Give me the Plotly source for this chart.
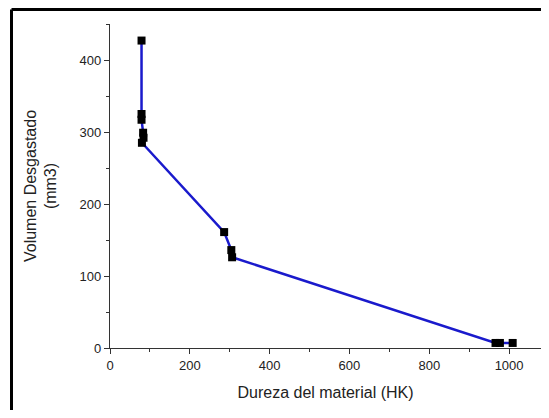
import plotly.graph_objects as go

dureza = [79, 79, 79, 83, 84, 80, 286, 304, 306, 966, 977, 1009]
volumen = [427, 325, 317, 299, 292, 285, 161, 136, 126, 7, 7, 7]

x_title = "Dureza del material (HK)"
y_title = "Volumen Desgastado<br>(mm3)"

# page body has an 8px margin; offset layout accordingly
W, H = 533, 402
L, T, PW, PH = 102, 16, 431, 324
XMAX = 1100 * PW / 439

fig = go.Figure()
fig.add_trace(go.Scatter(
    x=dureza, y=volumen, mode="lines+markers",
    line=dict(color="#1a1acc", width=2.5),
    marker=dict(symbol="square", size=8, color="black"),
    cliponaxis=False, showlegend=False,
))

font = "Liberation Sans, Arial, sans-serif"
fig.update_layout(
    width=W, height=H,
    margin=dict(l=L, r=W - L - PW, t=T, b=H - T - PH),
    paper_bgcolor="white", plot_bgcolor="white",
    font=dict(family=font, size=13, color="#222"),
)
fig.update_xaxes(
    range=[0, XMAX], showgrid=False, zeroline=False, automargin=False,
    showline=True, linecolor="#333", linewidth=1.2,
    ticks="outside", ticklen=5, tickcolor="#333", dtick=200, tick0=0,
    minor=dict(ticks="outside", ticklen=3, dtick=100, tickcolor="#333"),
    title=dict(text=x_title, font=dict(size=16), standoff=15),
)
fig.update_yaxes(
    range=[0, 450], showgrid=False, zeroline=False, automargin=False,
    showline=True, linecolor="#333", linewidth=1.2,
    ticks="outside", ticklen=5, tickcolor="#333", dtick=100, tick0=0,
    minor=dict(ticks="outside", ticklen=3, dtick=50, tickcolor="#333"),
    title=dict(text=y_title, font=dict(size=16), standoff=18),
)
# outer frame (left and top edges; right/bottom fall outside the view)
fx = (3.5 - L) / PW
fy = (T + PH - 1.5) / PH
fig.add_shape(type="line", xref="paper", yref="paper",
              x0=fx, x1=1.1, y0=fy, y1=fy,
              line=dict(color="black", width=3), layer="above")
fig.add_shape(type="line", xref="paper", yref="paper",
              x0=fx, x1=fx, y0=-0.3, y1=fy,
              line=dict(color="black", width=3), layer="above")
fig.write_html("out.html")
